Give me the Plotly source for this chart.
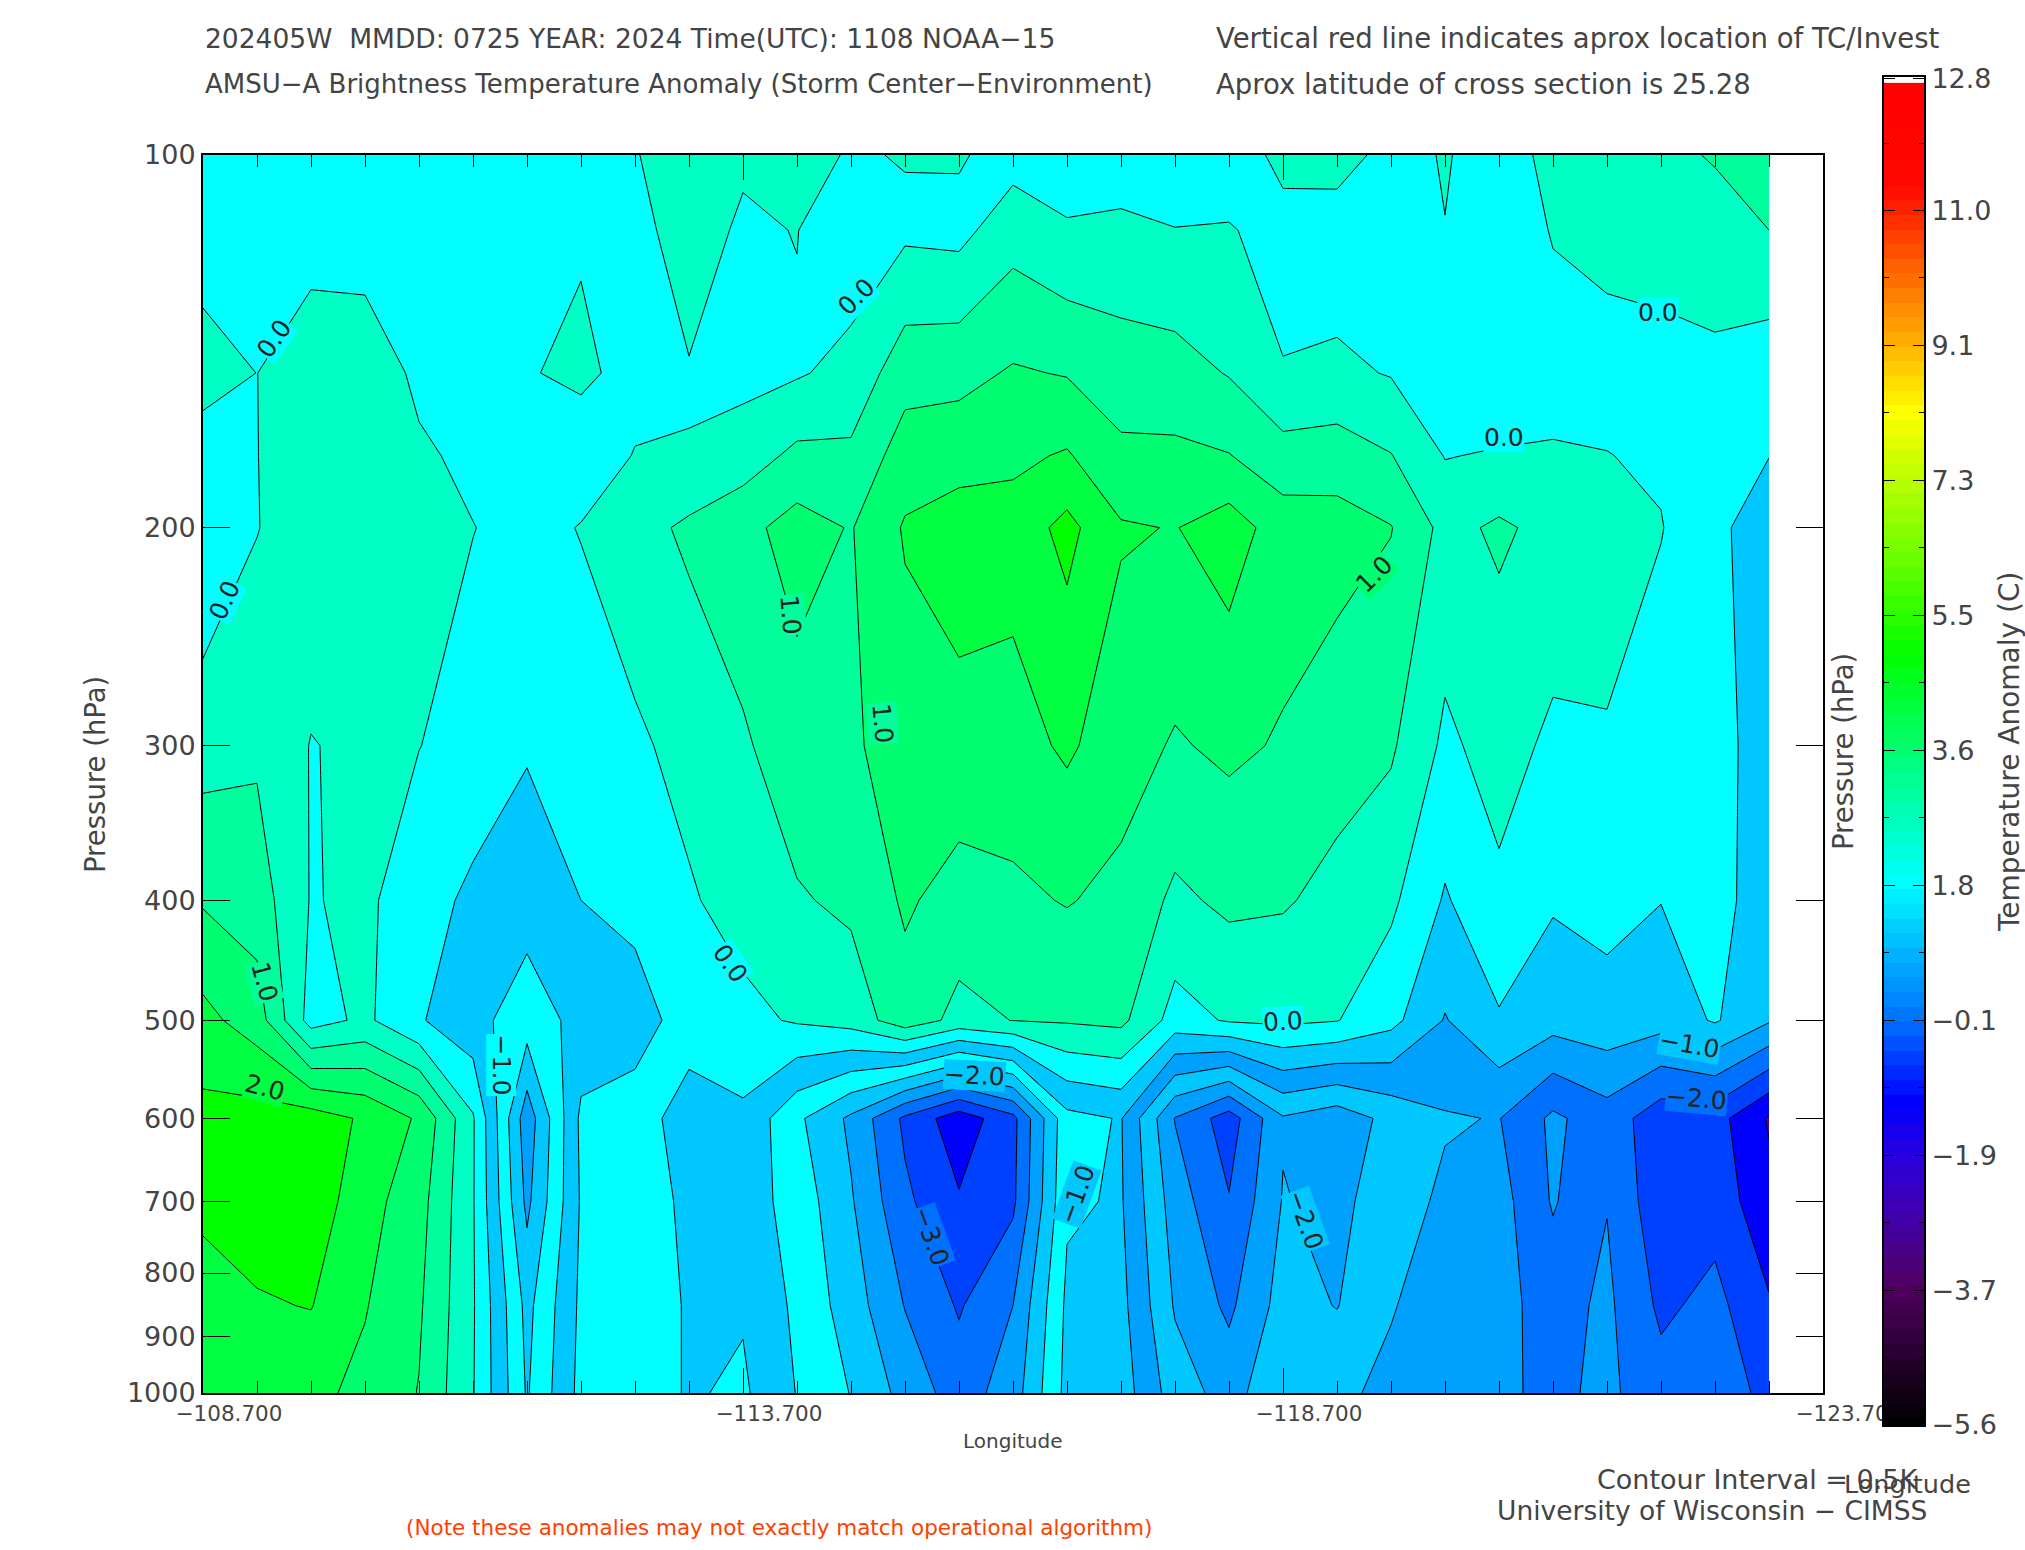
import math
import plotly.graph_objects as go

W, H = 2025, 1550

longitudes = [round(-108.7 - 0.5 * i, 1) for i in range(30)]
pressures = [100, 115, 150, 175, 200, 300, 400, 500, 600, 700, 850, 1000]

t100 = [-.3, -.3, -.3, -.3, -.3, -.3, -.3, -.3, -.02, .2, .05, .2, -.05, .03, .05, -.2, -.25, -.25, -.25, -.25, .12, .25, -.2, .04, -.25, .15, .25, .35, .55, .9]
t115 = [-.3, -.3, -.25, -.25, -.25, -.3, -.25, -.05, -.1, .15, -.05, .01, -.3, -.1, -.15, .3, .05, .1, .01, .03, -.15, -.3, -.3, -.01, -.3, .03, .12, .15, .25, .5]
t150 = [.25, -.005, .35, .3, -.1, -.25, -.03, .09, -.15, -.02, -.15, -.05, .15, .8, .85, 1.05, .97, .75, .7, .47, .02, .1, -.03, -.4, -.45, -.2, -.15, -.12, -.1, -.3]
t175 = [-.3, -.01, .35, .3, .07, -.1, -.1, -.25, .02, .01, .25, .62, .6, 1.25, 1.3, 1.4, 1.55, 1.1, 1.1, 1.02, .7, .75, .52, -.02, .05, .05, .01, -.06, -.22, -.49]
t200 = [-.45, -.02, .35, .3, .2, .01, -.15, .02, .3, .6, .85, 1.2, .97, 1.55, 1.75, 1.7, 2.15, 1.55, 1.48, 1.75, 1.25, 1.2, 1.02, .35, .58, .35, .15, .02, -.35, -.85]
t300 = [.3, .42, -.02, .1, .01, -.2, -.45, -.25, -.08, .15, .43, .8, .92, 1.25, 1.33, 1.3, 1.58, 1.22, .95, 1.1, .95, .72, .57, -.1, .2, -.1, -.03, -.25, -.35, -.7]
t400 = [.95, .75, -.03, .1, -.3, -.6, -.8, -.5, -.4, -.05, .18, .45, .6, 1.07, .8, .9, 1.03, .87, .4, .6, .55, .35, .1, -.55, -.1, -.45, -.35, -.49, -.3, -.8]
t500 = [1.65, 1.25, -.2, .1, -.45, -.85, -1.25, -.85, -.65, -.35, -.12, .05, .2, .8, .35, .51, .55, .62, -.2, .05, .1, .02, -.35, -1.03, -.55, -.8, -.68, -.8, -.45, -.95]
t600 = [2.15, 2.2, 2.24, 1.93, 1.43, .05, -2.3, -.4, -.35, -.65, -.6, -1.4, -2.1, -3.1, -3.8, -3.15, -1.15, -.97, -2.52, -3.25, -2.05, -2.3, -1.85, -1.54, -1.48, -2.1, -1.72, -2.3, -2.3, -3.05]
t700 = [2.05, 2.25, 2.3, 1.7, 1.2, .04, -2.12, -.45, -.25, -.6, -.75, -1.2, -1.95, -2.9, -3.45, -3.1, -1.07, -.95, -2.25, -2.97, -1.97, -2.15, -1.7, -1.42, -1.3, -2.05, -1.52, -2.35, -2.2, -2.85]
t850 = [1.9, 1.95, 2.02, 1.53, 1.07, .05, -1.65, -.4, -.2, -.55, -.55, -1.1, -1.75, -2.52, -3.05, -2.5, -.9, -.85, -2.05, -2.6, -1.8, -2.02, -1.52, -1.35, -1.35, -1.7, -1.4, -2.1, -1.85, -2.45]
t1000 = [1.75, 1.75, 1.62, 1.38, .98, .03, -1.55, -.35, -.2, -.55, -.42, -1.02, -1.52, -2.17, -2.75, -2.25, -.85, -.75, -1.75, -2.2, -1.6, -1.56, -1.43, -1.3, -1.42, -1.6, -1.4, -1.8, -1.8, -2.1]
anomaly = [t100, t115, t150, t175, t200, t300, t400, t500, t600, t700, t850, t1000]

pos_bands = ["#00ffff", "#00ffc4", "#00ff9c", "#00ff70", "#00ff40", "#00ff00", "#00ff00"]
# fill colours of the bands below 0, lowest first; the original fill is not monotonic and changes along the section
bands_west = ["#0000ff", "#0000ff", "#0040ff", "#0070ff", "#00a0ff", "#00c8ff", "#00ffff", "#00c8ff"]
bands_mid = ["#0000ff", "#0000ff", "#0040ff", "#0070ff", "#00a0ff", "#00c8ff", "#00a0ff", "#00c8ff"]
bands_hole = ["#4000c0", "#4000c0", "#0000ff", "#0040ff", "#00a0ff", "#0070ff", "#00a0ff", "#00c8ff"]
bands_east = ["#4000c0", "#4000c0", "#4000c0", "#0000ff", "#0040ff", "#0070ff", "#00a0ff", "#00c8ff"]
# each part runs to the eastern edge and is overdrawn by the next one
segments = [(0, bands_west), (17, bands_mid), (24, bands_hole), (26, bands_east)]

p_ticks = [100, 200, 300, 400, 500, 600, 700, 800, 900, 1000]
lon_ticks = [-108.7, -113.7, -118.7, -123.7]
lon_tick_text = ["\u2212108.700", "\u2212113.700", "\u2212118.700", "\u2212123.700"]
bar_ticks = [-5.6, -3.76, -1.92, -0.08, 1.76, 3.6, 5.44, 7.28, 9.12, 10.96, 12.8]
bar_tick_text = ["\u22125.6", "\u22123.7", "\u22121.9", "\u22120.1", "1.8", "3.6", "5.5", "7.3", "9.1", "11.0", "12.8"]
bar_stops = [(-5.6, "#000000"), (-3.7, "#500060"), (-2.7, "#4000b0"), (-1.9, "#2800e0"), (-1.2, "#0000ff"),
             (-.1, "#0070ff"), (1.0, "#00c0ff"), (1.8, "#00ffff"), (3.6, "#00ff70"), (4.9, "#00ff00"),
             (6.5, "#80ff00"), (8.2, "#ffff00"), (9.1, "#ffb400"), (10.2, "#ff6000"), (11.3, "#ff0800"), (12.8, "#ff0000")]

contour_labels = [
    (-109.36, 140.6, "0.0", -55, "#00ffff"), (-108.90, 229, "0.0", -65, "#00ffff"), (-109.27, 465, "1.0", 75, "#00ff9c"),
    (-109.27, 567, "2.0", 15, "#00ff40"), (-111.46, 543, "\u22121.0", 90, "#00ffff"), (-114.14, 235, "1.0", 85, "#00ff9c"),
    (-114.99, 288, "1.0", 85, "#00ff9c"), (-114.75, 130, "0.0", -45, "#00ffff"), (-113.58, 450, "0.0", 55, "#00ffff"),
    (-119.54, 218, "1.0", -45, "#00ff70"), (-120.75, 169, "0.0", 0, "#00ffff"), (-122.17, 134, "0.0", 0, "#00ffff"),
    (-118.70, 501, "0.0", -3, "#00ffff"), (-122.46, 523, "\u22121.0", 10, "#00c8ff"), (-122.53, 578, "\u22122.0", 5, "#0070ff"),
    (-115.84, 554, "\u22122.0", 3, "#00c8ff"), (-116.79, 691, "\u22121.0", -70, "#00c8ff"), (-115.44, 748, "\u22123.0", 70, "#0070ff"),
    (-118.91, 725, "\u22122.0", 70, "#00c8ff"),
]

FONT = "DejaVu Sans"
INK = "#444444"
level_start, level_end, level_size = -4.0, 2.5, 0.5
n_levels = int((level_end - level_start) / level_size) + 1

fig = go.Figure()
for first, low_bands in segments:
    bands = low_bands + pos_bands
    scale = [[k / n_levels, c] for k, c in enumerate(bands)]
    fig.add_trace(go.Contour(
        x=longitudes[first:], y=pressures,
        z=[row[first:] for row in anomaly],
        autocontour=False,
        contours=dict(start=level_start, end=level_end, size=level_size, coloring="fill", showlines=True),
        colorscale=scale, showscale=False,
        line=dict(color="black", width=1, smoothing=0),
        hoverinfo="skip", xaxis="x", yaxis="y",
    ))

bar_levels = [round(-5.6 + 0.2 * i, 2) for i in range(92)]
span = 12.8 + 5.6
fig.add_trace(go.Heatmap(
    x=[0, 1], y=bar_levels, z=[[v, v] for v in bar_levels], zmin=-5.6, zmax=12.8,
    colorscale=[[(v + 5.6) / span, c] for v, c in bar_stops], showscale=False,
    hoverinfo="skip", xaxis="x2", yaxis="y2",
))


def text(px, py, s, size=26.5, anchor="left", color=INK, angle=0):
    return dict(x=px / W, y=1 - py / H, xref="paper", yref="paper", text=s, showarrow=False,
                xanchor=anchor, yanchor="middle", textangle=angle,
                font=dict(family=FONT, size=size, color=color))


annotations = [
    text(203, 38, "202405W  MMDD: 0725 YEAR: 2024 Time(UTC): 1108 NOAA\u221215"),
    text(1214, 38, "Vertical red line indicates aprox location of TC/Invest", size=27.5),
    text(203, 84, "AMSU\u2212A Brightness Temperature Anomaly (Storm Center\u2212Environment)", size=26),
    text(1214, 84, "Aprox latitude of cross section is 25.28", size=27.5),
    text(1012, 1441, "Longitude", size=20, anchor="center"),
    text(779, 1527, "(Note these anomalies may not exactly match operational algorithm)", size=21.5, anchor="center", color="#ff4000"),
    text(1921, 1479, "Contour Interval = 0.5K", size=27, anchor="right"),
    text(1842, 1484, "Longitude", size=25.5),
    text(1929, 1510, "University of Wisconsin \u2212 CIMSS", anchor="right"),
    text(95, 775, "Pressure (hPa)", size=27.5, anchor="center", angle=-90),
    text(1843, 752, "Pressure (hPa)", size=27.5, anchor="center", angle=-90),
    text(2010, 752, "Temperature Anomaly (C)", size=28, anchor="center", angle=-90),
]
for lon, p, s, angle, bg in contour_labels:
    annotations.append(dict(x=lon, y=math.log10(p), xref="x", yref="y", text=s, showarrow=False,
                            textangle=angle, bgcolor=bg, borderpad=0,
                            font=dict(family=FONT, size=25, color="#222222")))

half_deg = [round(-108.7 - 0.5 * i, 1) for i in range(31)]
axis_font = dict(family=FONT, size=27, color=INK)
fig.update_layout(
    width=W, height=H, margin=dict(l=0, r=0, t=0, b=0),
    paper_bgcolor="white", plot_bgcolor="white", showlegend=False,
    annotations=annotations,
    xaxis=dict(domain=[203 / W, 1823 / W], anchor="y", automargin=False, range=[-108.7, -123.7], tickmode="array",
               tickvals=lon_ticks, ticktext=lon_tick_text, ticks="inside", ticklen=25, tickwidth=1, tickcolor="black",
               ticklabelshift=-26, tickfont=dict(family=FONT, size=21.5, color=INK),
               minor=dict(ticks="inside", ticklen=12, tickwidth=1, tickcolor="black", tickmode="array", tickvals=half_deg, showgrid=False),
               showgrid=False, zeroline=False, showline=True, linecolor="black", linewidth=2, mirror="allticks"),
    yaxis=dict(domain=[1 - 1393 / H, 1 - 155 / H], anchor="x", automargin=False, type="log", range=[3, 2], tickmode="array",
               tickvals=p_ticks, ticktext=[str(p) for p in p_ticks], ticks="inside", ticklen=27, tickwidth=1, tickcolor="black",
               tickfont=axis_font, showgrid=False, zeroline=False, showline=True, linecolor="black", linewidth=2, mirror="allticks"),
    xaxis2=dict(domain=[1884 / W, 1924 / W], anchor="y2", automargin=False, range=[0, 1], showticklabels=False, ticks="",
                showgrid=False, zeroline=False, showline=True, linecolor="black", linewidth=2, mirror=True),
    yaxis2=dict(domain=[1 - 1425 / H, 1 - 77 / H], anchor="x2", automargin=False, side="right", range=[-5.6, 12.78], tickmode="array",
                tickvals=bar_ticks[:-1] + [12.76], ticktext=bar_tick_text, ticks="inside", ticklen=11, tickwidth=1, tickcolor="black",
                tickfont=axis_font,
                minor=dict(ticks="inside", ticklen=5, tickwidth=1, tickcolor="black", tickmode="array",
                           tickvals=[round(-4.68 + 1.84 * i, 2) for i in range(10)], showgrid=False),
                showgrid=False, zeroline=False, showline=True, linecolor="black", linewidth=2, mirror="allticks"),
)

fig.write_html("out.html", config={"displayModeBar": False}, post_script="document.body.style.margin='0';")
